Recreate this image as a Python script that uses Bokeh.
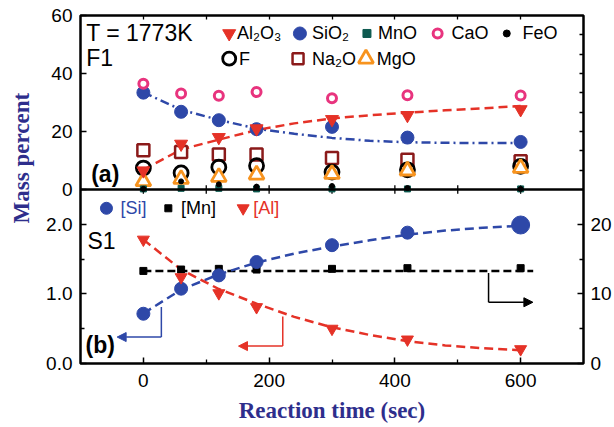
import math
from bokeh.plotting import figure
from bokeh.models import Range1d, LinearAxis, FixedTicker, Arrow, NormalHead, Label, Span
from bokeh.layouts import row
from bokeh.embed import file_html
from bokeh.resources import INLINE

# ---------------- data ----------------
time = [0, 60, 120, 180, 300, 420, 600]

# panel (a): slag composition, mass percent
al2o3 = [6.5, 15.7, 18.0, 21.0, 24.2, 25.6, 27.6]
sio2 = [33.4, 26.8, 23.9, 20.8, 21.6, 17.9, 16.4]
mno = [0.2, 0.4, 0.4, 0.2, 0.2, 0.2, 0.2]
cao = [36.5, 33.1, 32.3, 33.6, 31.5, 32.5, 32.4]
feo = [0.2, 2.8, 1.8, 1.0, 1.2, 0.5, 0.2]
f_ = [7.4, 5.7, 7.7, 8.2, 6.0, 6.8, 8.0]
na2o = [13.5, 12.9, 12.1, 12.1, 10.9, 10.3, 9.7]
mgo = [2.8, 3.6, 4.3, 5.1, 5.3, 6.5, 7.4]

# trend curves
fit_t = [0, 60, 120, 180, 240, 300, 360, 420, 480, 540, 600]
fit_sio2 = [33.5, 27.5, 24.0, 21.0, 19.2, 17.8, 16.8, 16.3, 16.1, 16.0, 16.0]
fit_al2o3 = [6.8, 13.8, 17.2, 20.5, 22.8, 24.5, 25.6, 26.5, 27.3, 28.0, 28.8]

# panel (b): steel composition
si = [0.715, 1.075, 1.266, 1.458, 1.70, 1.88, 1.99]      # left axis
mn = [13.3, 13.5, 13.6, 13.5, 13.6, 13.7, 13.7]         # right axis
al = [17.8, 12.4, 10.1, 8.1, 5.0, 3.45, 2.06]           # right axis

fit_si = [0.72, 1.06, 1.28, 1.45, 1.58, 1.68, 1.77, 1.85, 1.91, 1.95, 1.98]
fit_al = [17.8, 13.5, 10.7, 8.6, 6.7, 5.2, 4.1, 3.2, 2.6, 2.2, 1.9]
fit_mn_t = [0, 620]
fit_mn = [13.3, 13.3]

x_ticks = [0, 200, 400, 600]
x_minor = [100, 300, 500]
a_ticks = [0, 20, 40, 60]
a_tick_labels = ["0", "20", "40", "60"]
b_left_ticks = [0, 1, 2]
b_left_labels = ["0.0", "1.0", "2.0"]
b_right_ticks = [0, 10, 20]

# ---------------- styles ----------------
RED = "#E53227"
BLUE = "#2E48A8"
PINK = "#E8347E"
DRED = "#8B1A1A"
ORANGE = "#F7931E"
TEAL = "#0E5A50"
LBLUE = "#2E2E8C"
SANS = "Liberation Sans"
SERIF = "Liberation Serif"

# vertical layout of the shared frame (main y units = panel b left units)
SEP = 2.5          # boundary between panels
TOP = 5.0          # top of panel (a)
A_MAX = 60.0


def a_to_main(v):
    return SEP + v * (TOP - SEP) / A_MAX


def a_to_r(v):
    return 10 * a_to_main(v)


def style_axis(ax, ticks, minor, size="19px"):
    ax.ticker = FixedTicker(ticks=ticks, minor_ticks=minor)
    ax.major_tick_in = 6
    ax.major_tick_out = 0
    ax.minor_tick_in = 4
    ax.minor_tick_out = 0
    ax.axis_line_color = None
    ax.major_tick_line_width = 1.5
    ax.minor_tick_line_width = 1.3
    ax.major_label_text_font = SANS
    ax.major_label_text_font_size = size
    ax.major_label_text_color = "black"
    ax.major_label_standoff = 8


# ---------------- label figure ----------------
p0 = figure(width=40, height=427, x_range=Range1d(0, 40), y_range=Range1d(0, 427),
            x_axis_type=None, y_axis_type=None, min_border=0, toolbar_location=None,
            output_backend="svg", outline_line_color=None)
p0.add_layout(Label(x=21, y=252, text="Mass percent", angle=math.pi / 2,
                    text_align="center", text_baseline="middle",
                    text_font=SERIF, text_font_style="bold", text_font_size="23px",
                    text_color=LBLUE))

# ---------------- main figure (both panels share one frame) ----------------
p = figure(width=574, height=427, x_range=Range1d(-100, 700), y_range=Range1d(0, TOP),
           x_axis_type=None, y_axis_type=None, toolbar_location=None, output_backend="svg",
           min_border_left=40, min_border_right=30, min_border_top=15, min_border_bottom=64)
p.extra_y_ranges = {"a": Range1d(-A_MAX * SEP / (TOP - SEP), A_MAX), "r": Range1d(0, 10 * TOP)}
p.outline_line_color = "black"
p.outline_line_width = 2.5

# left axis: panel (b) ticks + panel (a) ticks mapped into the shared scale
a_pos = [a_to_main(v) for v in a_ticks]
ax = LinearAxis()
style_axis(ax, b_left_ticks + a_pos, [0.5, 1.5])
overrides = {t: s for t, s in zip(b_left_ticks, b_left_labels)}
overrides.update({t: s for t, s in zip(a_pos, a_tick_labels)})
ax.major_label_overrides = overrides
p.add_layout(ax, "left")

# right axis: panel (b) right scale, unlabeled ticks for panel (a)
a_right_minor = [a_to_r(v) for v in [20 / 3, 40 / 3, 20, 80 / 3, 100 / 3, 40, 140 / 3, 160 / 3]]
ax = LinearAxis(y_range_name="r")
style_axis(ax, b_right_ticks, [5, 15] + a_right_minor)
ax.major_label_standoff = 7
p.add_layout(ax, "right")

# bottom axis
ax = LinearAxis()
style_axis(ax, x_ticks, x_minor)
ax.major_label_standoff = 10
ax.axis_label = "Reaction time (sec)"
ax.axis_label_text_font = SERIF
ax.axis_label_text_font_style = "bold"
ax.axis_label_text_font_size = "23px"
ax.axis_label_text_color = LBLUE
ax.axis_label_standoff = 8
p.add_layout(ax, "below")

# top axis: ticks only
ax = LinearAxis()
style_axis(ax, [], [0, 100, 200, 300, 400, 500, 600])
p.add_layout(ax, "above")

# separator between the panels, with its ticks
p.add_layout(Span(location=SEP, dimension="width", line_color="black", line_width=2.5))
sep_x = [0, 100, 200, 300, 400, 500, 600]
p.segment(sep_x, [SEP - 0.06] * len(sep_x), sep_x, [SEP + 0.06] * len(sep_x),
          line_color="black", line_width=1.3)

# ---------- panel (a) ----------
A = dict(y_range_name="a")
p.line(fit_t, fit_sio2, line_color=BLUE, line_width=2.5, line_dash="9 4 2 4", **A)
p.line(fit_t, fit_al2o3, line_color=RED, line_width=2.5, line_dash="9 5", **A)

p.scatter(time, na2o, marker="square", size=12, fill_color="white", line_color=DRED, line_width=2.5, **A)
p.scatter(time, f_, marker="circle", size=14, fill_color=None, line_color="black", line_width=2.8, **A)
p.scatter(time, mgo, marker="triangle", size=15, fill_color="white", line_color=ORANGE, line_width=2.8, **A)
p.scatter(time, mno, marker="square", size=6, fill_color=TEAL, line_color=TEAL, **A)
p.scatter(time, feo, marker="circle", size=5, fill_color="black", line_color="black", **A)
p.scatter(time, sio2, marker="circle", size=13, fill_color=BLUE, line_color=BLUE, **A)
p.scatter(time, al2o3, marker="inverted_triangle", size=13, fill_color=RED, line_color=RED, **A)
p.scatter(time, cao, marker="circle", size=9, fill_color="white", line_color=PINK, line_width=3, **A)

# legend (a)
row1, row2 = 53.8, 45.1
p.scatter([136.5], [row1], marker="inverted_triangle", size=13, fill_color=RED, line_color=RED, **A)
p.scatter([249], [row1], marker="circle", size=13, fill_color=BLUE, line_color=BLUE, **A)
p.scatter([355.6], [row1], marker="square", size=8, fill_color=TEAL, line_color=TEAL, **A)
p.scatter([468], [row1], marker="circle", size=9, fill_color="white", line_color=PINK, line_width=3, **A)
p.scatter([578], [row1], marker="circle", size=7, fill_color="black", line_color="black", **A)
p.scatter([136.5], [row2], marker="circle", size=13, fill_color=None, line_color="black", line_width=2.8, **A)
p.scatter([246], [row2], marker="square", size=11, fill_color="white", line_color=DRED, line_width=2.5, **A)
p.scatter([354], [row2], marker="triangle", size=15, fill_color="white", line_color=ORANGE, line_width=2.8, **A)

legend_items = [(149, row1, "Al₂O₃"), (268, row1, "SiO₂"), (373, row1, "MnO"),
                (490, row1, "CaO"), (603, row1, "FeO"),
                (152, row2, "F"), (268, row2, "Na₂O"), (371, row2, "MgO")]
for lx, ly, lt in legend_items:
    p.add_layout(Label(x=lx, y=ly, text=lt, text_align="left", text_baseline="middle",
                       text_font=SANS, text_font_size="18px", text_color="black", y_range_name="a"))

p.add_layout(Label(x=-91, y=53.8, text="T = 1773K", text_baseline="middle", y_range_name="a",
                   text_font=SANS, text_font_size="23px", text_color="black"))
p.add_layout(Label(x=-91, y=45.3, text="F1", text_baseline="middle", y_range_name="a",
                   text_font=SANS, text_font_size="23px", text_color="black"))
p.add_layout(Label(x=-83, y=5.2, text="(a)", text_baseline="middle", y_range_name="a",
                   text_font=SANS, text_font_style="bold", text_font_size="23px", text_color="black"))

# ---------- panel (b) ----------
R = dict(y_range_name="r")
p.line(fit_mn_t, fit_mn, line_color="black", line_width=2.5, line_dash="8 4", **R)
p.line(fit_t, fit_si, line_color=BLUE, line_width=2.5, line_dash="9 5")
p.line(fit_t, fit_al, line_color=RED, line_width=2.5, line_dash="9 5", **R)

p.scatter(time, mn, marker="square", size=7, fill_color="black", line_color="black", **R)
p.scatter(time[:-1], si[:-1], marker="circle", size=13, fill_color=BLUE, line_color=BLUE)
p.scatter(time[-1:], si[-1:], marker="circle", size=18, fill_color=BLUE, line_color=BLUE)
p.scatter(time, al, marker="inverted_triangle", size=12, fill_color=RED, line_color=RED, **R)

# legend (b)
ly = 2.23
p.scatter([-58.7], [ly], marker="circle", size=12, fill_color=BLUE, line_color=BLUE)
p.scatter([39.7], [ly], marker="square", size=7, fill_color="black", line_color="black")
p.scatter([158.7], [ly], marker="inverted_triangle", size=12, fill_color=RED, line_color=RED)
for lx, lt, lc in [(-36.5, "[Si]", BLUE), (60, "[Mn]", "black"), (174.6, "[Al]", RED)]:
    p.add_layout(Label(x=lx, y=ly, text=lt, text_baseline="middle", text_font=SANS,
                       text_font_size="18px", text_color=lc))

p.add_layout(Label(x=-89, y=1.755, text="S1", text_baseline="middle",
                   text_font=SANS, text_font_size="23px", text_color="black"))
p.add_layout(Label(x=-92, y=0.26, text="(b)", text_baseline="middle",
                   text_font=SANS, text_font_style="bold", text_font_size="23px", text_color="black"))

# arrows pointing to the axes
for (vx, y0, y1, x1, col) in [(28.6, 0.81, 0.38, -41.7, BLUE),
                              (221.7, 0.676, 0.25, 151.3, RED),
                              (549, 1.30, 0.88, 619.5, "black")]:
    p.segment([vx], [y0], [vx], [y1], line_color=col, line_width=1.5)
    p.add_layout(Arrow(x_start=vx, y_start=y1, x_end=x1, y_end=y1, line_color=col, line_width=1.5,
                       end=NormalHead(size=9, fill_color=col, line_color=col)))

layout = row(p0, p)
open("out.html", "w").write(file_html(layout, INLINE))
